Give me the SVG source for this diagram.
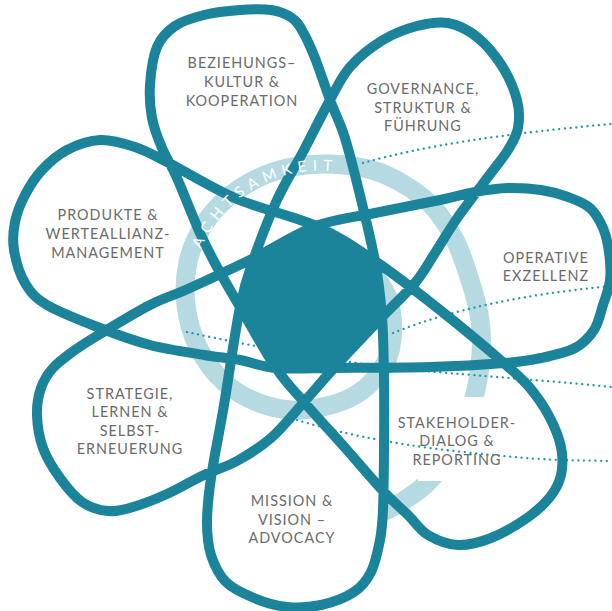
<svg xmlns="http://www.w3.org/2000/svg" width="612" height="611" viewBox="0 0 612 611">
<defs>
<style>
.band{fill:none;stroke:#b6dae1;stroke-width:19;stroke-linecap:butt}
.dot{fill:none;stroke:#2596ae;stroke-width:2.3;stroke-linecap:round;stroke-dasharray:0.1 5.6}
.petal{fill:none;stroke:#1b849b;stroke-width:10;stroke-linejoin:round}
.core{fill:#1b849b}
.lbl{font-family:Lato,"Open Sans","Liberation Sans",sans-serif;font-size:14.4px;fill:#6b6b6b;text-anchor:middle;letter-spacing:1px}
.ring{font-family:Lato,"Open Sans","Liberation Sans",sans-serif;font-size:15px;fill:#ffffff;text-anchor:middle}
</style>
</defs>
<rect width="612" height="611" fill="#ffffff"/>
<g id="achtsamkeit-band">
<path class="band" d="M365,262 C368.8,268 383.5,285 388,298 S393.3,327.7 392,340 S387,362.3 380,372 S363,391.7 350,398 S316.7,409 302,410 S274.8,408.5 262,404 S235.7,392.5 225,383 S204.5,360 198,347 S187.7,319.2 186,305 S185.2,275.2 188,262 S196.5,236.7 203,226 S217.8,206 227,198 S247.2,183.2 258,178 S280,169.3 292,167 S316.7,163.5 330,164 S359.5,166.5 372,170 S394.8,178.8 405,185 S424.7,197.8 433,207 S448.8,227.8 455,240 S465.8,266.7 470,280 S478.2,307.5 480,320 S481.7,343.3 481,355 S478.7,378.3 476,390 S469.7,413.7 465,425 S454.7,448 448,458 S433,477.5 425,485 S407,498.5 400,503 S385.8,510.5 383,512"/>
<rect x="418" y="397" width="85" height="84" fill="#ffffff"/>
</g>
<g id="connectors">
<path class="dot" d="M363,163 Q450,138 612,124"/>
<path class="dot" d="M393,333 Q480,298 612,286"/>
<path class="dot" d="M187,332 C260,348 360,366 435,372 S560,382 612,387"/>
<path class="dot" d="M297,420 C330,430 380,443 463,452 S560,460 612,461"/>
</g>
<g id="petals">
<path class="petal" d="M100,140 C111.3,139.5 123.8,143.3 135,147 S150,153.3 167,162 S212.2,188.3 237,199 S293,215.7 316,226 S354.3,247 375,261 S418.3,292.8 440,310 S490,351 505,364 S522.7,379.3 530,388 S543.8,406.2 549,416 S559,437.2 561,447 S562.8,466.7 561,475 S555.7,489.8 550,497 S536.8,511.2 527,518 S502.5,533.5 491,538 S468.5,545.5 458,545 S436.3,540 428,535 S415.3,522.2 408,515 S394.2,502.8 384,492 S360.3,465 347,450 S315.8,415.7 304,402 S286.7,383.8 276,368 S249.8,323.8 240,307 S223.7,279.3 217,267 S206.7,247.8 200,233 S183.3,192.2 177,178 S166.2,158 162,148 S154,128.5 152,118 S149.2,96.8 150,85 S152.8,56.8 157,47 S167.2,31.3 175,26 S193.2,17.7 204,15 S228.8,10.8 240,10 S262.3,8.7 271,10 S286.7,14.3 292,18 S299.2,25.3 303,32 S310.5,46.7 315,58 S325.2,87.2 330,100 S339.5,121.2 344,135 S351.8,162 357,183 S370.8,238.7 375,261 S380.5,297.2 382,317 S383.7,357.8 384,380 S384.2,428.3 384,450 S383.7,495 383,510 S382,529.7 380,540 S375.3,563.3 371,572 S362.3,586.5 354,592 S332.2,602.5 321,605 S298.2,608.2 287,607 S264.2,602.2 254,598 S233.2,589.2 226,582 S214.2,565 211,555 S207,534.8 207,522 S208.2,497.5 211,478 S219.2,433.5 224,405 S235,331.5 240,307 S247.8,275.8 254,258 S268.7,218 277,200 S295.2,166.7 304,150 S322.3,113.8 330,100 S341.2,77 350,67 S371.8,46.8 383,40 S406.2,28.8 417,26 S438,21.2 448,23 S468,29.8 477,37 S495.3,55.5 502,66 S514.3,89.7 517,100 S519.5,119.7 518,128 S512.5,142.5 508,150 S499.3,161.8 491,173 S467.3,203.7 458,217 S442.2,242 435,253 S423.8,272.3 415,283 S395.5,302.8 382,317 S347,353.8 334,368 S314.5,390.3 304,402 S282.2,428.2 271,438 S248.2,454.8 237,461 S215.7,469.5 204,475 S178.8,488.7 167,494 S142.8,504.2 133,507 S116.5,511.8 108,511 S90,507.5 82,502 S66.5,487 60,478 S46.8,458.5 43,448 S37.3,425 37,415 S38.3,395.8 41,388 S47.3,374.3 53,368 S67.2,355.7 75,350 S87.5,341.5 100,334 S135,312.7 150,305 S172.7,295.8 190,288 S233,268.3 254,258 S295.8,233.5 316,226 S354.3,217.3 375,213 S423.3,203.5 440,200 S463.7,194 475,192 S497,188.3 508,188 S531,188.5 541,190 S559.8,194 568,197 S584.2,202.8 590,208 S599.8,220.7 603,228 S607.8,243.3 609,252 S611,271.2 610,280 S605.7,296.7 603,305 S598.7,322.8 594,330 S583.8,343.3 575,348 S552.7,355.5 541,358 S523.5,361.5 505,363 S458.5,366.2 430,367 S359.7,367.8 334,368 S291.7,369.3 276,368 S252,362.2 240,360 S219,357.5 204,355 S167.3,349.5 150,345 S117.2,334.7 100,328 S59.5,312.5 47,305 S30.5,292.2 25,283 S15.7,260.2 14,250 S13.2,231.2 15,222 S20.5,203.7 25,195 S35,177.5 42,170 S57.3,155 67,150 S88.7,140.5 100,140 Z"/>
</g>
<g id="core">
<polygon class="core" points="254,258 316,226 375,261 382,317 334,368 276,368 240,307"/>
</g>
<g id="achtsamkeit-label">
<text class="ring" x="320" y="170.5" transform="rotate(-64.6 320 300)">A</text>
<text class="ring" x="320" y="170.5" transform="rotate(-57.4 320 300)">C</text>
<text class="ring" x="320" y="170.5" transform="rotate(-50.1 320 300)">H</text>
<text class="ring" x="320" y="170.5" transform="rotate(-43 320 300)">T</text>
<text class="ring" x="320" y="170.5" transform="rotate(-36.7 320 300)">S</text>
<text class="ring" x="320" y="170.5" transform="rotate(-30 320 300)">A</text>
<text class="ring" x="320" y="170.5" transform="rotate(-22.1 320 300)">M</text>
<text class="ring" x="320" y="170.5" transform="rotate(-14.4 320 300)">K</text>
<text class="ring" x="320" y="170.5" transform="rotate(-7.7 320 300)">E</text>
<text class="ring" x="320" y="170.5" transform="rotate(-2.2 320 300)">I</text>
<text class="ring" x="320" y="170.5" transform="rotate(3.3 320 300)">T</text>
</g>
<g id="node-beziehung">
<text class="lbl" x="242" y="68">BEZIEHUNGS–</text>
<text class="lbl" x="242" y="87">KULTUR &amp;</text>
<text class="lbl" x="242" y="106">KOOPERATION</text>
</g>
<g id="node-governance">
<text class="lbl" x="423" y="94">GOVERNANCE,</text>
<text class="lbl" x="423" y="112.5">STRUKTUR &amp;</text>
<text class="lbl" x="423" y="131">FÜHRUNG</text>
</g>
<g id="node-operative">
<text class="lbl" x="546" y="262.5">OPERATIVE</text>
<text class="lbl" x="546" y="281">EXZELLENZ</text>
</g>
<g id="node-stakeholder">
<text class="lbl" x="457" y="427.5">STAKEHOLDER-</text>
<text class="lbl" x="457" y="446">DIALOG &amp;</text>
<text class="lbl" x="457" y="464.5">REPORTING</text>
</g>
<g id="node-mission">
<text class="lbl" x="292" y="506">MISSION &amp;</text>
<text class="lbl" x="292" y="524.5">VISION –</text>
<text class="lbl" x="292" y="543">ADVOCACY</text>
</g>
<g id="node-strategie">
<text class="lbl" x="130" y="398.5">STRATEGIE,</text>
<text class="lbl" x="130" y="417.3">LERNEN &amp;</text>
<text class="lbl" x="130" y="435.8">SELBST-</text>
<text class="lbl" x="130" y="454.3">ERNEUERUNG</text>
</g>
<g id="node-produkte">
<text class="lbl" x="108" y="220.3">PRODUKTE &amp;</text>
<text class="lbl" x="108" y="239.3">WERTEALLIANZ-</text>
<text class="lbl" x="108" y="258.3">MANAGEMENT</text>
</g>
</svg>
